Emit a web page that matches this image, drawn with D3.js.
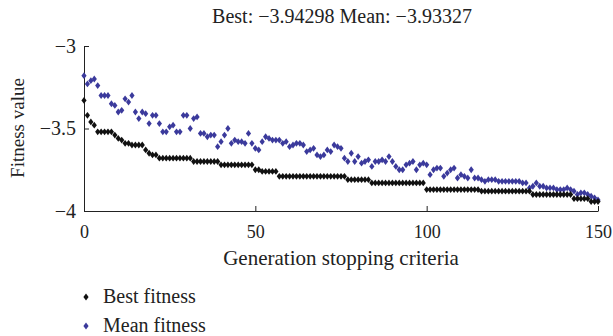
<!DOCTYPE html>
<html>
<head>
<meta charset="utf-8">
<script src="https://cdn.jsdelivr.net/npm/d3@7.9.0/dist/d3.min.js"></script>
<style>
  body { margin: 0; background: #fff; }
  .axis path, .axis line { stroke: #222; }
</style>
</head>
<body>
<svg id="chart" width="613" height="336"></svg>
<script>
// generations 0..150
const generations = d3.range(0, 151);

const bestFitness = [
  -3.33, -3.42, -3.46, -3.48, -3.52, -3.52, -3.52, -3.52, -3.52, -3.54,
  -3.56, -3.57, -3.59, -3.59, -3.60, -3.60, -3.60, -3.60, -3.63, -3.65,
  -3.66, -3.66, -3.68, -3.68, -3.68, -3.68, -3.68, -3.68, -3.68, -3.68,
  -3.68, -3.68, -3.70, -3.70, -3.70, -3.70, -3.70, -3.70, -3.70, -3.70,
  -3.72, -3.72, -3.72, -3.72, -3.72, -3.72, -3.72, -3.72, -3.72, -3.72,
  -3.75, -3.75, -3.76, -3.76, -3.76, -3.76, -3.76, -3.79, -3.79, -3.79,
  -3.79, -3.79, -3.79, -3.79, -3.79, -3.79, -3.79, -3.79, -3.79, -3.79,
  -3.79, -3.79, -3.79, -3.79, -3.79, -3.79, -3.79, -3.81, -3.81, -3.81,
  -3.81, -3.81, -3.81, -3.81, -3.83, -3.83, -3.83, -3.83, -3.83, -3.83,
  -3.83, -3.83, -3.83, -3.83, -3.83, -3.83, -3.83, -3.83, -3.83, -3.83,
  -3.87, -3.87, -3.87, -3.87, -3.87, -3.87, -3.87, -3.87, -3.87, -3.87,
  -3.87, -3.87, -3.87, -3.87, -3.87, -3.87, -3.88, -3.88, -3.88, -3.88,
  -3.88, -3.88, -3.88, -3.88, -3.88, -3.88, -3.88, -3.88, -3.88, -3.88,
  -3.88, -3.90, -3.90, -3.90, -3.90, -3.90, -3.90, -3.90, -3.90, -3.90,
  -3.90, -3.90, -3.90, -3.925, -3.925, -3.925, -3.925, -3.925, -3.943, -3.943,
  -3.943
];

const meanFitness = [
  -3.18, -3.23, -3.21, -3.20, -3.24, -3.30, -3.30, -3.30, -3.35, -3.36,
  -3.40, -3.39, -3.32, -3.34, -3.30, -3.40, -3.44, -3.40, -3.41, -3.47,
  -3.42, -3.42, -3.47, -3.52, -3.52, -3.49, -3.48, -3.52, -3.52, -3.42,
  -3.42, -3.50, -3.44, -3.43, -3.53, -3.53, -3.55, -3.54, -3.54, -3.61,
  -3.58, -3.54, -3.50, -3.59, -3.57, -3.58, -3.58, -3.59, -3.53, -3.59,
  -3.62, -3.63, -3.58, -3.55, -3.56, -3.57, -3.57, -3.57, -3.59, -3.58,
  -3.61, -3.60, -3.59, -3.59, -3.60, -3.64, -3.63, -3.62, -3.66, -3.67,
  -3.66, -3.63, -3.64, -3.60, -3.61, -3.62, -3.68, -3.70, -3.65, -3.70,
  -3.67, -3.71, -3.70, -3.69, -3.73, -3.70, -3.70, -3.69, -3.70, -3.67,
  -3.70, -3.73, -3.75, -3.75, -3.72, -3.71, -3.70, -3.75, -3.72, -3.71,
  -3.72, -3.78, -3.75, -3.74, -3.74, -3.79, -3.77, -3.75, -3.74, -3.80,
  -3.78, -3.79, -3.80, -3.75, -3.80, -3.80, -3.81, -3.82, -3.81, -3.81,
  -3.81, -3.82, -3.82, -3.82, -3.82, -3.82, -3.82, -3.82, -3.83, -3.83,
  -3.86, -3.85, -3.83, -3.85, -3.85, -3.86, -3.86, -3.86, -3.87, -3.87,
  -3.87, -3.86, -3.87, -3.88, -3.90, -3.89, -3.89, -3.90, -3.91, -3.92,
  -3.933
];

const xTicks = [0, 50, 100, 150];
const yTicks = [-3, -3.5, -4];
const titleText = "Best: \u22123.94298 Mean: \u22123.93327";
const legendItems = [
  { label: "Best fitness", color: "#111111" },
  { label: "Mean fitness", color: "#3b3a9c" }
];

const serif = "'Liberation Serif', 'DejaVu Serif', serif";
const svg = d3.select("#chart");

const x = d3.scaleLinear().domain([0, 150]).range([84, 598]);
const y = d3.scaleLinear().domain([-4, -3]).range([211, 46]);

const diamond = "M0,-3.4L2.6,0L0,3.4L-2.6,0Z";

// axes, ticks point inward
svg.append("g")
  .attr("class", "axis")
  .attr("transform", "translate(0,211)")
  .call(d3.axisBottom(x).tickValues(xTicks).tickSizeInner(-5).tickSizeOuter(0).tickPadding(14))
  .call(g => g.selectAll("text")
    .style("font-family", serif).style("font-size", "18px").attr("fill", "#222"));

svg.append("g")
  .attr("class", "axis")
  .attr("transform", "translate(84,0)")
  .call(d3.axisLeft(y).tickValues(yTicks).tickSizeInner(-5).tickSizeOuter(0).tickPadding(8)
    .tickFormat(d3.format("")))
  .call(g => g.selectAll("text")
    .style("font-family", serif).style("font-size", "20px").attr("fill", "#222"));

// points: mean first, best on top
svg.append("g").selectAll("path")
  .data(generations)
  .join("path")
  .attr("d", diamond)
  .attr("transform", g => `translate(${x(g)},${y(meanFitness[g])})`)
  .attr("fill", legendItems[1].color);

svg.append("g").selectAll("path")
  .data(generations)
  .join("path")
  .attr("d", diamond)
  .attr("transform", g => `translate(${x(g)},${y(bestFitness[g])})`)
  .attr("fill", legendItems[0].color);

// title
svg.append("text")
  .attr("x", 342).attr("y", 23)
  .attr("text-anchor", "middle")
  .style("font-family", serif).style("font-size", "20px")
  .attr("fill", "#222")
  .text(titleText);

// axis titles
svg.append("text")
  .attr("x", 341).attr("y", 265)
  .attr("text-anchor", "middle")
  .style("font-family", serif).style("font-size", "21px")
  .attr("fill", "#222")
  .text("Generation stopping criteria");

svg.append("text")
  .attr("transform", "translate(24,128) rotate(-90)")
  .attr("text-anchor", "middle")
  .style("font-family", serif).style("font-size", "19px")
  .attr("fill", "#222")
  .text("Fitness value");

// legend
const legend = svg.append("g").selectAll("g")
  .data(legendItems)
  .join("g")
  .attr("transform", (d, i) => `translate(86,${297 + i * 29})`);

legend.append("path")
  .attr("d", diamond)
  .attr("fill", d => d.color);

legend.append("text")
  .attr("x", 17).attr("y", 6)
  .style("font-family", serif).style("font-size", "20px")
  .attr("fill", "#222")
  .text(d => d.label);
</script>
</body>
</html>
